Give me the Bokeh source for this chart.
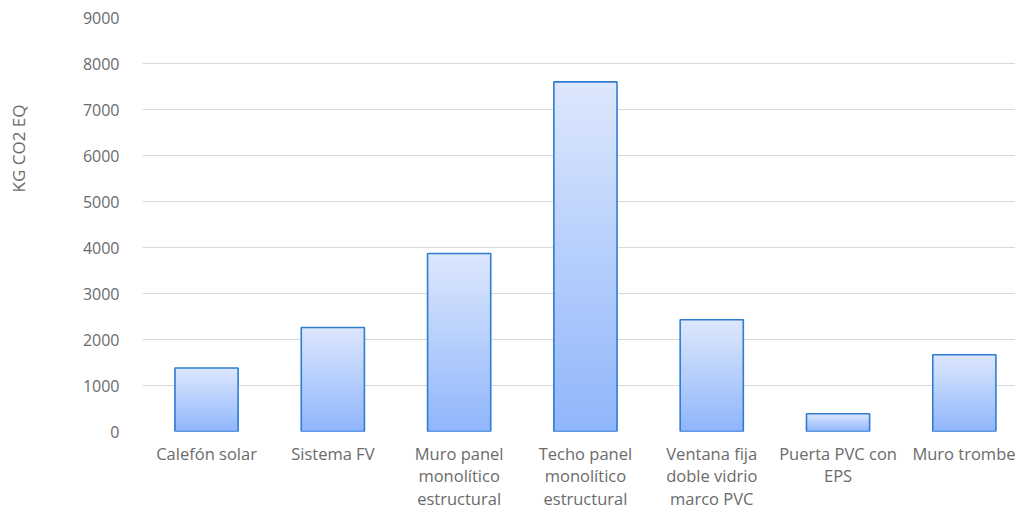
import numpy as np
from bokeh.plotting import figure
from bokeh.models import FixedTicker
from bokeh.layouts import row
from bokeh.core.properties import value
from bokeh.embed import file_html
from bokeh.resources import INLINE

categories = ["Calefón solar", "Sistema FV", "Muro panel\nmonolítico\nestructural",
              "Techo panel\nmonolítico\nestructural", "Ventana fija\ndoble vidrio\nmarco PVC",
              "Puerta PVC con\nEPS", "Muro trombe"]
values = [1380, 2260, 3870, 7600, 2430, 385, 1670]
y_ticks = [0, 1000, 2000, 3000, 4000, 5000, 6000, 7000, 8000, 9000]
y_title = "KG CO2 EQ"

FONT = "Open Sans"
TXT = "#6b6b6b"
TITLE_W = 36
H = 512

# narrow side panel holding the vertical axis title
side = figure(width=TITLE_W, height=H, output_backend="svg", toolbar_location=None,
              x_range=(0, TITLE_W), y_range=(0, H), min_border=0)
side.axis.visible = False
side.grid.grid_line_color = None
side.outline_line_color = None
side.text(x=[TITLE_W / 2], y=[H - 162], text=[y_title], angle=np.pi / 2,
          text_align="center", text_baseline="middle", text_font=value(FONT),
          text_font_size="17px", text_color=TXT)

p = figure(width=1015 - TITLE_W, height=H, output_backend="svg", toolbar_location=None,
           x_range=(-0.507, 6.405), y_range=(0, 9000),
           min_border_left=142 - TITLE_W, min_border_right=0, min_border_top=17, min_border_bottom=81)
p.outline_line_color = None
p.xgrid.grid_line_color = None
p.ygrid.grid_line_color = "#d9d9d9"
p.ygrid.grid_line_width = 1
p.ygrid.ticker = FixedTicker(ticks=y_ticks)

# gradient bars: overlapping strips, light top to darker bottom
top_c = np.array([0xdc, 0xe7, 0xfd])
bot_c = np.array([0x8f, 0xb5, 0xfb])
N = 60
xs, tops, cols = [], [], []
for i, v in enumerate(values):
    for k in range(N):
        f = (N - k) / N
        c = bot_c + (top_c - bot_c) * f
        xs.append(i)
        tops.append(v * f)
        cols.append("#%02x%02x%02x" % tuple(int(round(t)) for t in c))
p.vbar(x=xs, top=tops, bottom=0, width=0.5, fill_color=cols, line_color=None)
p.vbar(x=list(range(len(values))), top=values, bottom=0, width=0.5,
       fill_color=None, line_color="#2e7dd2", line_width=1.6)

xa = p.xaxis[0]
xa.ticker = FixedTicker(ticks=list(range(len(categories))))
xa.major_label_overrides = {i: c for i, c in enumerate(categories)}
xa.axis_line_color = None
xa.major_tick_line_color = None
xa.minor_tick_line_color = None
xa.major_label_standoff = 4
xa.major_label_text_font = FONT
xa.major_label_text_font_size = "16.5px"
xa.major_label_text_color = TXT
xa.major_label_text_line_height = 0.98

ya = p.yaxis[0]
ya.ticker = FixedTicker(ticks=y_ticks)
ya.axis_line_color = None
ya.major_tick_line_color = None
ya.minor_tick_line_color = None
ya.major_label_standoff = 17
ya.major_label_text_font = FONT
ya.major_label_text_font_size = "16px"
ya.major_label_text_color = TXT

layout = row(side, p)
open("out.html", "w").write(file_html(layout, INLINE))
